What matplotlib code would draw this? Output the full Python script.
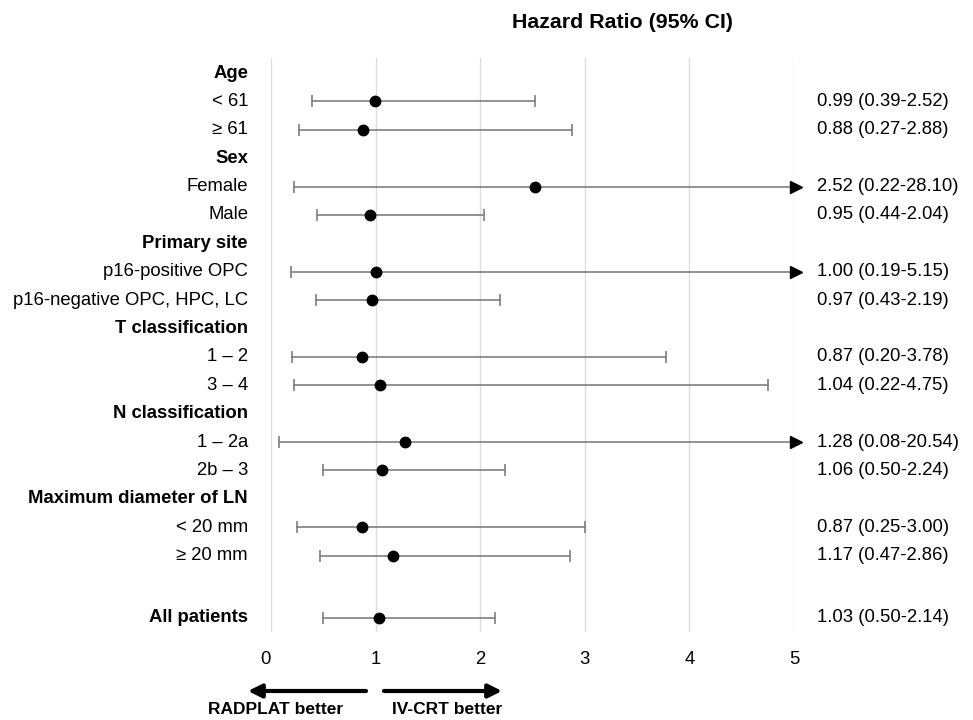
import matplotlib
matplotlib.use("Agg")
import matplotlib.pyplot as plt
import matplotlib.transforms as mtrans

plt.rcParams['font.family'] = ['Liberation Sans', 'DejaVu Sans']

labels = ["Age", "< 61", "≥ 61", "Sex", "Female", "Male", "Primary site",
          "p16-positive OPC", "p16-negative OPC, HPC, LC", "T classification",
          "1 – 2", "3 – 4", "N classification", "1 – 2a", "2b – 3",
          "Maximum diameter of LN", "< 20 mm", "≥ 20 mm", "All patients"]
is_header = [True, False, False, True, False, False, True, False, False, True,
             False, False, True, False, False, True, False, False, True]
hr = [None, 0.99, 0.88, None, 2.52, 0.95, None, 1.00, 0.97, None,
      0.87, 1.04, None, 1.28, 1.06, None, 0.87, 1.17, 1.03]
lower = [None, 0.39, 0.27, None, 0.22, 0.44, None, 0.19, 0.43, None,
         0.20, 0.22, None, 0.08, 0.50, None, 0.25, 0.47, 0.50]
upper = [None, 2.52, 2.88, None, 28.10, 2.04, None, 5.15, 2.19, None,
         3.78, 4.75, None, 20.54, 2.24, None, 3.00, 2.86, 2.14]
ypos = list(range(18)) + [19.2]
xticks = [0, 1, 2, 3, 4, 5]
xmax = 5

FS = 13.3
W, H = 973, 720
fig = plt.figure(figsize=(W / 100, H / 100), dpi=100)
x0, x5 = 271, 794
ytop, ybot = 58, 632
ax = fig.add_axes([x0 / W, 1 - ybot / H, (x5 - x0) / W, (ybot - ytop) / H])
ax.set_xlim(0, xmax)
pxu = (618 - 73) / 19.2
ax.set_ylim(19.2 + (ybot - 618) / pxu, -(73 - ytop) / pxu)
for s in ax.spines.values():
    s.set_visible(False)
ax.set_yticks([])
ax.set_xticks(xticks)
ax.set_xticklabels([str(t) for t in xticks], fontsize=FS)
ax.tick_params(axis='x', length=0, pad=14)
tl = ax.get_xticklabels()
tl[0].set_transform(tl[0].get_transform() +
                    mtrans.ScaledTranslation(-6 / 100, 0, fig.dpi_scale_trans))
for t in xticks:
    ax.axvline(t, color='#dddddd', lw=1, zorder=0)

gray = '#7f7f7f'
for y, lab, hd, h, lo, hi in zip(ypos, labels, is_header, hr, lower, upper):
    ax.annotate(lab, xy=(0, y), xycoords=('axes fraction', 'data'),
                xytext=(-23, 0), textcoords='offset pixels',
                ha='right', va='center', fontsize=FS,
                fontweight='bold' if hd else 'normal', annotation_clip=False)
    if h is None:
        continue
    end = min(hi, xmax)
    ax.plot([lo, end], [y, y], color=gray, lw=1.2, zorder=2, clip_on=False)
    ax.plot([lo], [y], marker='|', color=gray, ms=8, mew=1.2, zorder=2, clip_on=False)
    if hi <= xmax:
        ax.plot([hi], [y], marker='|', color=gray, ms=8, mew=1.2, zorder=2, clip_on=False)
    else:
        ax.plot([xmax + 0.02], [y], marker='>', color='black', ms=9, zorder=3, clip_on=False)
    ax.plot([h], [y], marker='o', color='black', ms=7.5, zorder=4, clip_on=False)
    ax.annotate(f"{h:.2f} ({lo:.2f}-{hi:.2f})", xy=(1, y),
                xycoords=('axes fraction', 'data'), xytext=(23, 0),
                textcoords='offset pixels', ha='left', va='center',
                fontsize=FS, annotation_clip=False)

fig.text(623 / W, 1 - 22 / H, "Hazard Ratio (95% CI)", ha='center', va='center',
         fontsize=15.4, fontweight='bold')

ay = 1 - 691 / H
fig.add_artist(matplotlib.patches.FancyArrowPatch(
    (366 / W, ay), (248 / W, ay), transform=fig.transFigure,
    arrowstyle='-|>,head_length=8,head_width=4', lw=3, color='black',
    mutation_scale=1, shrinkA=0, shrinkB=0))
fig.add_artist(matplotlib.patches.FancyArrowPatch(
    (384 / W, ay), (502 / W, ay), transform=fig.transFigure,
    arrowstyle='-|>,head_length=8,head_width=4', lw=3, color='black',
    mutation_scale=1, shrinkA=0, shrinkB=0))
fig.text(276 / W, 1 - 710 / H, "RADPLAT better", ha='center', va='center',
         fontsize=12.5, fontweight='bold')
fig.text(447 / W, 1 - 710 / H, "IV-CRT better", ha='center', va='center',
         fontsize=12.5, fontweight='bold')

fig.savefig("out.png", dpi=100)
